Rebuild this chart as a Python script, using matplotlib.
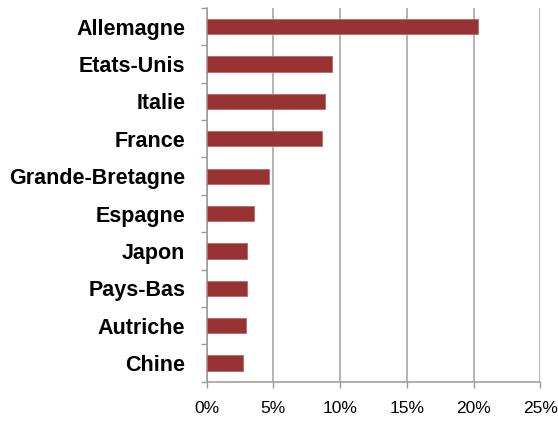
import matplotlib
matplotlib.use("Agg")
import matplotlib.pyplot as plt
import numpy as np
from matplotlib.ticker import FixedLocator, PercentFormatter

countries = ["Allemagne", "Etats-Unis", "Italie", "France", "Grande-Bretagne",
             "Espagne", "Japon", "Pays-Bas", "Autriche", "Chine"]
values = [20.3, 9.4, 8.85, 8.65, 4.7, 3.55, 3.05, 3.0, 2.95, 2.7]
xticks = [0, 5, 10, 15, 20, 25]

plt.rcParams['font.family'] = ['Liberation Sans', 'DejaVu Sans']

fig = plt.figure(figsize=(5.58, 4.21), dpi=100)
ax = fig.add_axes([0.3704, 0.0933, 0.5979, 0.8877])

y = np.arange(len(countries))
ax.barh(y, values, height=0.41, color="#993333", edgecolor="#b36b6b", linewidth=0.6, zorder=3)
ax.set_ylim(len(countries) - 0.5, -0.5)
ax.set_xlim(0, 25)

ax.set_yticks(y)
ax.set_yticklabels(countries, fontsize=15.5, fontweight="bold")
ax.yaxis.set_minor_locator(FixedLocator(np.arange(-0.5, len(countries), 1)))
ax.tick_params(axis="y", which="major", length=0, pad=15.5)
ax.tick_params(axis="y", which="minor", length=4, width=1, color="#999999", direction="out")

ax.set_xticks(xticks)
ax.xaxis.set_major_formatter(PercentFormatter(decimals=0))
ax.tick_params(axis="x", which="major", length=4, width=1, color="#999999", labelsize=12.5, pad=10)

ax.grid(axis="x", color="#a0a0a0", linewidth=1.1, zorder=0)
for s in ["top", "right"]:
    ax.spines[s].set_visible(False)
for s in ["left", "bottom"]:
    ax.spines[s].set_color("#999999")
    ax.spines[s].set_linewidth(1.1)

fig.savefig("out.png", dpi=100)
